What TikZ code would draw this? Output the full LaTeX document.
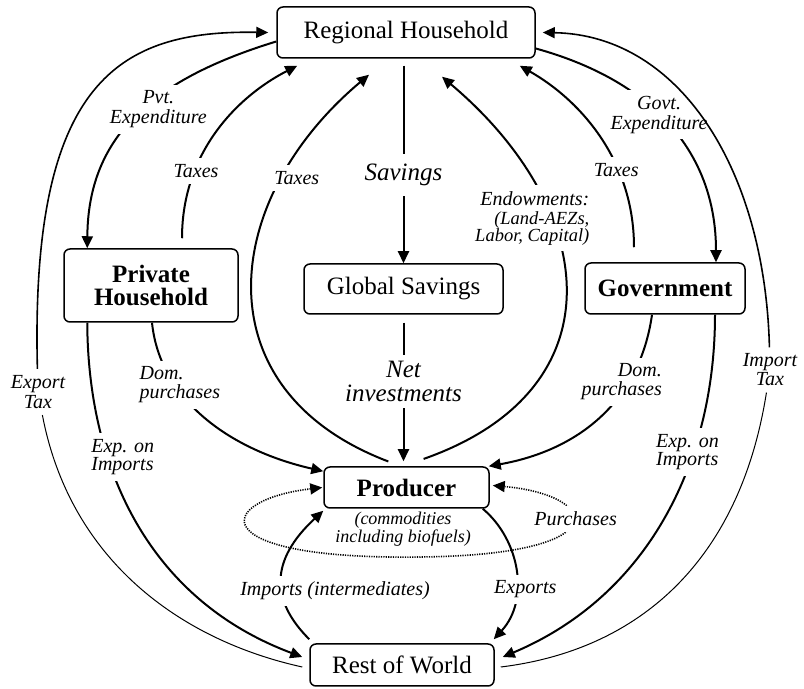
\documentclass[tikz,border=0pt]{standalone}
\usepackage{fontspec}
\setmainfont{Liberation Serif}
\usetikzlibrary{calc,arrows.meta}

\tikzset{
  box/.style={draw, line width=0.75pt, rounded corners=3pt, inner sep=0pt, align=center,
    font=\fontsize{12.5}{11.5}\selectfont},
  bbox/.style={box, font=\fontsize{12.5}{11.5}\selectfont\bfseries},
  flow/.style={->, line width=1pt},
  outerflow/.style={->, line width=0.8pt},
  thinline/.style={line width=0.5pt},
  dotflow/.style={<->, line width=0.8pt, dash pattern=on 0.6pt off 0.6pt},
  lbl/.style={fill=white, inner sep=3pt, align=center, font=\fontsize{10}{10}\selectfont\itshape},
  biglbl/.style={lbl, font=\fontsize{12.5}{12}\selectfont\itshape},
}

\begin{document}
\begin{tikzpicture}[x=0.5pt,y=-0.5pt,>={Triangle[length=6pt,width=5.5pt]}]
\useasboundingbox (0,0) rectangle (804,689);

\node[box, minimum width=129pt, minimum height=25.5pt] (RH) at (406,32.5) {Regional Household};
\node[bbox, minimum width=87pt, minimum height=36.5pt] (PH) at (151,285.5) {Private\\Household};
\node[box, minimum width=99.5pt, minimum height=25pt] (GS) at (403.5,289) {Global Savings};
\node[bbox, minimum width=80pt, minimum height=25.5pt] (Gov) at (665,288.5) {Government};
\node[bbox, minimum width=82.5pt, minimum height=20.5pt] (Prod) at (406.5,487.5) {Producer};
\node[box, minimum width=92pt, minimum height=21pt] (RoW) at (402,665) {Rest of World};
\node[lbl, fill=none, inner sep=0pt, font=\fontsize{9}{9}\selectfont\itshape] (ProdSub) at (403,529)
  {(commodities\\including biofuels)};

\draw[flow] ($(RH.west)+(0,9)$) .. controls (147,81) and (88,140) .. ($(PH.north west)+(24,0)$)
  node[lbl, pos=0.45, xshift=7.5pt] {Pvt.\\Expenditure};
\draw[flow, shorten <=5pt] ($(PH.north)+(31,0)$) .. controls (182,150) and (240,95) .. ($(RH.south west)+(21,7)$)
  node[lbl, pos=0.3] {Taxes};
\draw[flow, shorten <=2.5pt] ($(Prod.north)+(-13.5,-3)$) .. controls (200,390) and (220,200) .. ($(RH.south)+(-37,16)$)
  node[lbl, pos=0.75, xshift=7pt] {Taxes};
\draw[flow, shorten <=3.5pt] (RH.south -| GS.north) -- (GS.north)
  node[biglbl, pos=0.57, inner sep=5pt] {Savings};
\draw[flow, shorten <=3.5pt] ($(Prod.north)+(10.5,-5)$) .. controls (620,390) and (600,210) .. ($(RH.south)+(36,18)$)
  node[lbl, pos=0.67, xshift=-9pt, align=right] {Endowments:\\[-0.5pt]{\fontsize{9.25}{10}\selectfont (Land-AEZs,}\\[-1.5pt]{\fontsize{9.25}{10}\selectfont Labor, Capital)}};
\draw[flow, shorten <=7.5pt] ($(Gov.north)+(-31,0)$) .. controls (634,160) and (580,100) .. ($(RH.south east)+(-16,7)$)
  node[lbl, pos=0.35] {Taxes};
\draw[flow] ($(RH.east)+(0,16)$) .. controls (650,80) and (716,150) .. ($(Gov.north)+(51,0)$)
  node[lbl, pos=0.45] {Govt.\\Expenditure};

\node[lbl, fill=none] (ETax) at (38,392) {Export\\Tax};
\draw[outerflow] (ETax) .. controls (30,80) and (120,30) .. ($(RH.west)+(-8,0)$);
\draw[thinline] (ETax) .. controls (70,560) and (180,640) .. ($(RoW.west)+(-7,2)$);
\node[lbl, fill=none] (ITax) at (770,370) {Import\\[-0.5pt]Tax};
\draw[outerflow] (ITax) .. controls (765,170) and (680,35) .. ($(RH.east)+(7,0)$);
\draw[thinline] (ITax) .. controls (740,560) and (640,650) .. ($(RoW.east)+(6,2)$);

\draw[flow] ($(PH.south west)+(24,0)$) .. controls (88,470) and (150,600) .. ($(RoW.west)+(-7,-8)$)
  node[lbl, pos=0.32, xshift=7.5pt, align=left] {Exp. on\\[-1pt]Imports};
\draw[flow] ($(PH.south)+(1,0)$) .. controls (160,400) and (230,450) .. ($(Prod.north west)+(0,5)$)
  node[lbl, pos=0.3, xshift=2.5pt, align=left] {Dom.\\[-0.5pt]purchases};
\draw[flow, shorten <=4pt, shorten >=2.5pt] (GS.south) -- (Prod.north -| GS.south)
  node[biglbl, pos=0.44] {Net\\investments};
\draw[flow] ($(Gov.south)+(-13,0)$) .. controls (640,400) and (580,450) .. ($(Prod.north east)+(-1,0)$)
  node[lbl, pos=0.3, xshift=-3.5pt, align=right] {Dom.\\[-0.5pt]purchases};
\draw[flow] ($(Gov.south)+(50,0)$) .. controls (715,460) and (650,595) .. ($(RoW.east)+(8,-8)$)
  node[lbl, pos=0.32, xshift=-3.5pt, yshift=-1.5pt, align=left] {Exp. on\\[-1pt]Imports};

\draw[flow] ($(RoW.north west)+(0,-4)$) .. controls (270,600) and (270,560) .. ($(Prod.south west)+(0,2)$)
  node[lbl, pos=0.45, xshift=26.8pt, yshift=-3pt] {Imports (intermediates)};
\draw[flow] ($(Prod.south east)+(-7,0)$) .. controls (520,540) and (530,600) .. ($(RoW.north east)+(-1,-4)$)
  node[lbl, pos=0.6, xshift=4.5pt, yshift=-2pt] {Exports};
\draw[dotflow] ($(Prod.west)+(-1,0)$) .. controls (215,500) and (200,560) .. (420,557)
  .. controls (620,555) and (600,495) .. ($(Prod.east)+(3,-2)$)
  node[lbl, pos=0.5, xshift=2pt, yshift=2.5pt] {Purchases};
\end{tikzpicture}
\end{document}
